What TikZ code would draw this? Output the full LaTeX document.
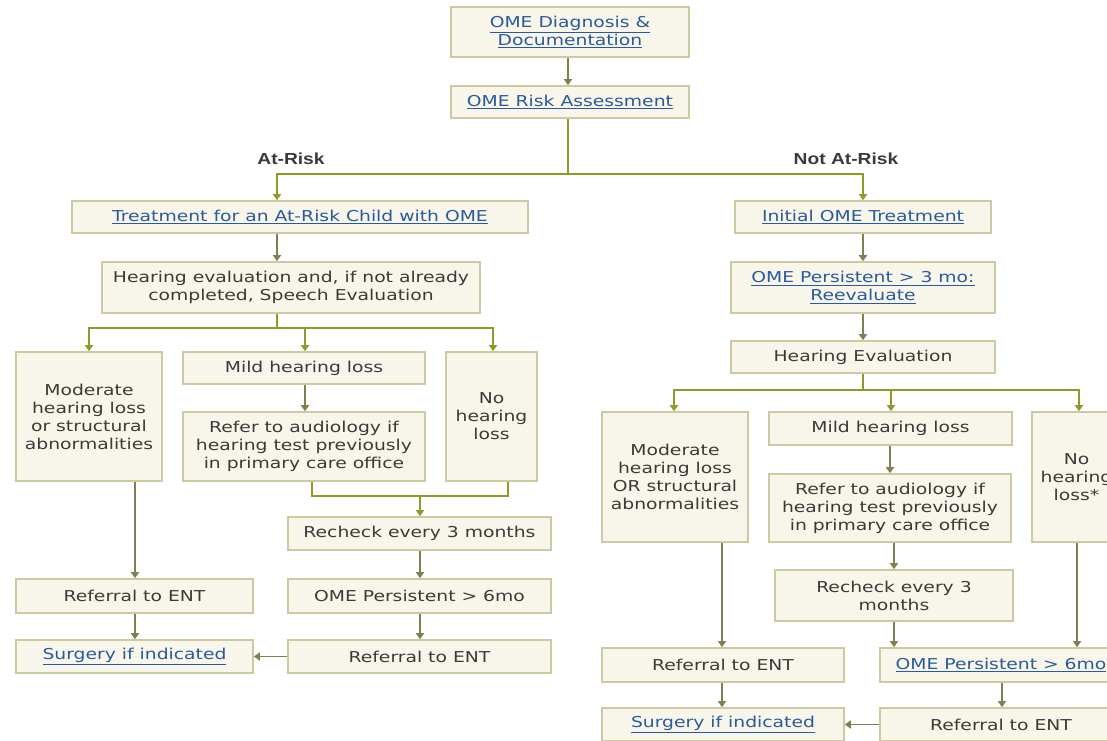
\documentclass[tikz,border=0pt]{standalone}
\usepackage{fontspec}
\setmainfont{DejaVu Sans}[FakeStretch=1.25]
\newfontfamily\sidefont{Liberation Sans}[FakeStretch=1.2]
\usetikzlibrary{arrows.meta}

\definecolor{boxfill}{HTML}{F8F6EA}
\definecolor{boxline}{HTML}{CDC9A3}
\definecolor{forkgreen}{HTML}{8E9B2C}
\definecolor{stemolive}{HTML}{7E7F52}
\definecolor{linkblue}{HTML}{2A5A9A}
\definecolor{textgrey}{HTML}{3A3A3A}

\tikzset{
  box/.style={draw=boxline, fill=boxfill, line width=1.2pt, inner sep=0pt,
    align=center, text=textgrey, font=\fontsize{11.25}{13.5}\selectfont},
  sz/.style 2 args={minimum width=#1*0.75pt, minimum height=#2*0.75pt},
  link/.style={box, text=linkblue},
  stem/.style={draw=stemolive, line width=1.3pt, -{Triangle[width=6pt,length=4.5pt]}},
  fork/.style={draw=forkgreen, line width=1.3pt},
  forkarr/.style={fork, -{Triangle[width=6pt,length=4.5pt]}},
  side/.style={font=\sidefont\bfseries\fontsize{12}{14}\selectfont, text=textgrey}
}
\newcommand\lnk[1]{\underline{#1}}

\begin{document}
\begin{tikzpicture}[x=0.75pt, y=-0.75pt]
\useasboundingbox (0,0) rectangle (1107,740);
\fill[white] (0,0) rectangle (1107,740);
\clip (0,0) rectangle (1107,740);

% columns the connectors run in
\foreach \n/\x in {cRisk/568, cAt/277, cNot/863, cModL/89, cMildL/305, cNoL/493,
                   cJoinA/312, cJoinB/508, cRecL/420, cEntL/135,
                   cModR/674, cMildR/891, cNoR/1079, cRefR/890, cRecR/894,
                   cEntR/722, cNoDown/1077, cPersR/1002}
  \coordinate (\n) at (\x,0);

% top
\node[link, sz={238}{50}] (diag) at (570,32) {\lnk{OME Diagnosis \&}\\\lnk{Documentation}};
\node[link, sz={238}{32}] (risk) at (570,102) {\lnk{OME Risk Assessment}};
\node[side] (atrisk) at (291,159) {At-Risk};
\node[side] (notrisk) at (846,159) {Not At-Risk};

% at-risk side
\node[link, sz={456}{32}] (treat) at (300,217) {\lnk{Treatment for an At-Risk Child with OME}};
\node[box, sz={378}{51}] (heval) at (291,287.5) {Hearing evaluation and, if not already\\completed, Speech Evaluation};
\node[box, sz={146}{129}] (modL) at (89,416.5) {Moderate\\hearing loss\\or structural\\abnormalities};
\node[box, sz={242}{32}] (mildL) at (304,368) {Mild hearing loss};
\node[box, sz={242}{69}] (referL) at (304,446.5) {Refer to audiology if\\hearing test previously\\in primary care office};
\node[box, sz={91}{129}] (noL) at (491.5,416.5) {No\\hearing\\loss};
\node[box, sz={263}{33}] (recheckL) at (419.5,533.5) {Recheck every 3 months};
\node[box, sz={263}{34}] (persL) at (419.5,596) {OME Persistent > 6mo};
\node[box, sz={237}{34}] (entL1) at (134.5,596) {Referral to ENT};
\node[link, sz={237}{33}] (surgL) at (134.5,656.5) {\lnk{Surgery if indicated}};
\node[box, sz={263}{33}] (entL2) at (419.5,656.5) {Referral to ENT};

% not at-risk side
\node[link, sz={256}{32}] (initR) at (863,217) {\lnk{Initial OME Treatment}};
\node[link, sz={264}{51}] (pers3R) at (863,287.5) {\lnk{OME Persistent > 3 mo:}\\\lnk{Reevaluate}};
\node[box, sz={264}{32}] (hevalR) at (863,357) {Hearing Evaluation};
\node[box, sz={146}{130}] (modR) at (675,477) {Moderate\\hearing loss\\OR structural\\abnormalities};
\node[box, sz={243}{33}] (mildR) at (890.5,428.5) {Mild hearing loss};
\node[box, sz={242}{68}] (referR) at (890,508) {Refer to audiology if\\hearing test previously\\in primary care office};
\node[box, sz={89}{130}] (noR) at (1076.5,477) {No\\hearing\\loss*};
\node[box, sz={238}{51}] (recheckR) at (894,595.5) {Recheck every 3\\months};
\node[box, sz={242}{34}] (entR1) at (723,665) {Referral to ENT};
\node[link, sz={242}{34}] (persR) at (1001,665) {\lnk{OME Persistent > 6mo}};
\node[link, sz={242}{33}] (surgR) at (723,724.5) {\lnk{Surgery if indicated}};
\node[box, sz={242}{33}] (entR2) at (1001,724.5) {Referral to ENT};

\coordinate (topbar) at (568,174);
\coordinate (forkL) at (277,328);
\coordinate (joinL) at (420,496);
\coordinate (forkR) at (863,390);

\draw[stem] (diag.south -| cRisk) -- (risk.north -| cRisk);
\draw[fork] (risk.south -| cRisk) -- (topbar);
\draw[forkarr] (topbar) -| (treat.north -| cAt);
\draw[forkarr] (topbar) -| (initR.north -| cNot);

\draw[stem] (treat.south -| cAt) -- (heval.north -| cAt);
\draw[fork] (heval.south -| cAt) -- (forkL);
\draw[forkarr] (forkL) -| (modL.north -| cModL);
\draw[forkarr] (forkL) -| (mildL.north -| cMildL);
\draw[forkarr] (forkL) -| (noL.north -| cNoL);
\draw[stem] (mildL.south -| cMildL) -- (referL.north -| cMildL);
\draw[fork] (referL.south -| cJoinA) |- (joinL);
\draw[fork] (noL.south -| cJoinB) |- (joinL);
\draw[forkarr] (joinL) -- (recheckL.north -| cRecL);
\draw[stem] (recheckL.south -| cRecL) -- (persL.north -| cRecL);
\draw[stem] (persL.south -| cRecL) -- (entL2.north -| cRecL);
\draw[stem] (entL2.west) -- (surgL.east);
\draw[stem] (modL.south -| cEntL) -- (entL1.north -| cEntL);
\draw[stem] (entL1.south -| cEntL) -- (surgL.north -| cEntL);

\draw[stem] (initR.south -| cNot) -- (pers3R.north -| cNot);
\draw[stem] (pers3R.south -| cNot) -- (hevalR.north -| cNot);
\draw[fork] (hevalR.south -| cNot) -- (forkR);
\draw[forkarr] (forkR) -| (modR.north -| cModR);
\draw[forkarr] (forkR) -| (mildR.north -| cMildR);
\draw[forkarr] (forkR) -| (noR.north -| cNoR);
\draw[stem] (mildR.south -| cRefR) -- (referR.north -| cRefR);
\draw[stem] (referR.south -| cRecR) -- (recheckR.north -| cRecR);
\draw[stem] (recheckR.south -| cRecR) -- (persR.north -| cRecR);
\draw[stem] (modR.south -| cEntR) -- (entR1.north -| cEntR);
\draw[stem] (noR.south -| cNoDown) -- (persR.north -| cNoDown);
\draw[stem] (entR1.south -| cEntR) -- (surgR.north -| cEntR);
\draw[stem] (persR.south -| cPersR) -- (entR2.north -| cPersR);
\draw[stem] (entR2.west) -- (surgR.east);

\end{tikzpicture}
\end{document}
